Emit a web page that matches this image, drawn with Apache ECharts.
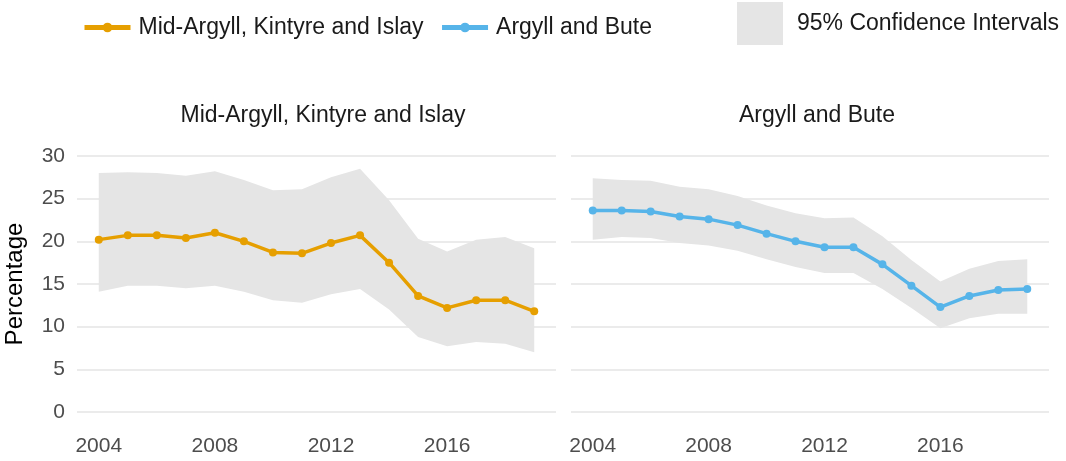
<!DOCTYPE html>
<html>
<head>
<meta charset="utf-8">
<script src="https://cdn.jsdelivr.net/npm/echarts@6/dist/echarts.min.js"></script>
<style>
  html, body { margin: 0; padding: 0; background: #fff; }
  #chart { width: 1066px; height: 461px; }
</style>
</head>
<body>
<div id="chart"></div>
<script>
// data
var years = [2004, 2005, 2006, 2007, 2008, 2009, 2010, 2011, 2012, 2013, 2014, 2015, 2016, 2017, 2018, 2019];

var midArgyll      = [20.2, 20.7, 20.7, 20.4, 21.0, 20.0, 18.7, 18.6, 19.8, 20.7, 17.5, 13.6, 12.2, 13.1, 13.1, 11.8];
var midArgyllLower = [14.1, 14.8, 14.8, 14.5, 14.8, 14.1, 13.1, 12.8, 13.8, 14.4, 12.0, 8.8, 7.7, 8.2, 8.0, 7.0];
var midArgyllUpper = [28.0, 28.1, 28.0, 27.7, 28.2, 27.2, 26.0, 26.1, 27.5, 28.5, 24.8, 20.3, 18.8, 20.2, 20.5, 19.2];

var argyllBute      = [23.6, 23.6, 23.5, 22.9, 22.6, 21.9, 20.9, 20.0, 19.3, 19.3, 17.3, 14.8, 12.3, 13.6, 14.3, 14.4];
var argyllButeLower = [20.2, 20.5, 20.4, 19.8, 19.5, 18.9, 17.9, 17.0, 16.3, 16.3, 14.4, 12.2, 9.8, 11.0, 11.5, 11.5];
var argyllButeUpper = [27.4, 27.2, 27.1, 26.4, 26.1, 25.3, 24.2, 23.3, 22.7, 22.8, 20.6, 17.8, 15.3, 16.8, 17.7, 17.9];

var xTicks = [2004, 2008, 2012, 2016];
var panelTitles = ['Mid-Argyll, Kintyre and Islay', 'Argyll and Bute'];

var bandName = '95% Confidence Intervals';
var orange = '#E69F00', blue = '#56B4E9', bandColor = '#e5e5e5';

function pairs(vals) {
  return years.map(function (y, i) { return [y, vals[i]]; });
}
function bandData(lo, hi) {
  return years.map(function (y, i) { return [y, lo[i], hi[i]]; });
}

var bandRaw = [bandData(midArgyllLower, midArgyllUpper), bandData(argyllButeLower, argyllButeUpper)];

// whole band drawn as one polygon from the first item
function renderBand(params, api) {
  if (params.dataIndex !== 0) return null;
  var data = bandRaw[params.seriesIndex];
  var top = [], bottom = [];
  for (var i = 0; i < data.length; i++) {
    top.push(api.coord([data[i][0], data[i][2]]));
    bottom.unshift(api.coord([data[i][0], data[i][1]]));
  }
  return {
    type: 'polygon',
    shape: { points: top.concat(bottom) },
    style: { fill: bandColor }
  };
}

var font = 'Liberation Sans, Arial, sans-serif';

function xAxisFor(idx) {
  return {
    type: 'value', gridIndex: idx, min: 2003.25, max: 2019.75,
    axisLine: { show: false }, axisTick: { show: false },
    splitLine: { show: false },
    axisLabel: {
      customValues: xTicks, color: '#4d4d4d', fontSize: 21, fontFamily: font, margin: 24,
      formatter: function (v) { return String(v); }
    }
  };
}
function yAxisFor(idx) {
  return {
    type: 'value', gridIndex: idx, min: 0, max: 30, interval: 5,
    axisLine: { show: false }, axisTick: { show: false },
    splitLine: { lineStyle: { color: '#ebebeb', width: 2 } },
    axisLabel: { show: idx === 0, color: '#4d4d4d', fontSize: 21, fontFamily: font, margin: 12 },
    name: idx === 0 ? 'Percentage' : '',
    nameLocation: 'middle', nameGap: 50,
    nameTextStyle: { color: '#000', fontSize: 24, fontFamily: font }
  };
}

var chart = echarts.init(document.getElementById('chart'));
chart.setOption({
  animation: false,
  textStyle: { fontFamily: font },
  title: [
    { text: panelTitles[0], left: 318, top: 99, textAlign: 'center',
      textStyle: { fontSize: 23, fontWeight: 'normal', color: '#1a1a1a', fontFamily: font } },
    { text: panelTitles[1], left: 812, top: 99, textAlign: 'center',
      textStyle: { fontSize: 23, fontWeight: 'normal', color: '#1a1a1a', fontFamily: font } }
  ],
  legend: [
    {
      data: [panelTitles[0], panelTitles[1]],
      left: 82, top: 16, padding: 0, itemWidth: 46, itemHeight: 12, itemGap: 16,
      lineStyle: { width: 5 },
      textStyle: { fontSize: 23, color: '#1a1a1a', fontFamily: font, padding: [0, 0, 0, 3] }
    },
    {
      data: [{ name: bandName, icon: 'rect' }],
      left: 737, top: 2, padding: 0, itemWidth: 46, itemHeight: 43, itemGap: 10,
      textStyle: { fontSize: 23, color: '#1a1a1a', fontFamily: font, padding: [0, 0, 0, 9] }
    }
  ],
  grid: [
    { left: 77, top: 156, width: 479, height: 256 },
    { left: 571, top: 156, width: 478, height: 256 }
  ],
  xAxis: [xAxisFor(0), xAxisFor(1)],
  yAxis: [yAxisFor(0), yAxisFor(1)],
  series: [
    { name: bandName, type: 'custom', xAxisIndex: 0, yAxisIndex: 0,
      renderItem: renderBand, data: bandRaw[0], itemStyle: { color: bandColor }, z: 1, silent: true },
    { name: bandName, type: 'custom', xAxisIndex: 1, yAxisIndex: 1,
      renderItem: renderBand, data: bandRaw[1], itemStyle: { color: bandColor }, z: 1, silent: true },
    { name: panelTitles[0], type: 'line', xAxisIndex: 0, yAxisIndex: 0, data: pairs(midArgyll),
      color: orange, lineStyle: { width: 3.5 }, symbol: 'circle', symbolSize: 8, z: 3 },
    { name: panelTitles[1], type: 'line', xAxisIndex: 1, yAxisIndex: 1, data: pairs(argyllBute),
      color: blue, lineStyle: { width: 3.5 }, symbol: 'circle', symbolSize: 8, z: 3 }
  ]
});
</script>
</body>
</html>
